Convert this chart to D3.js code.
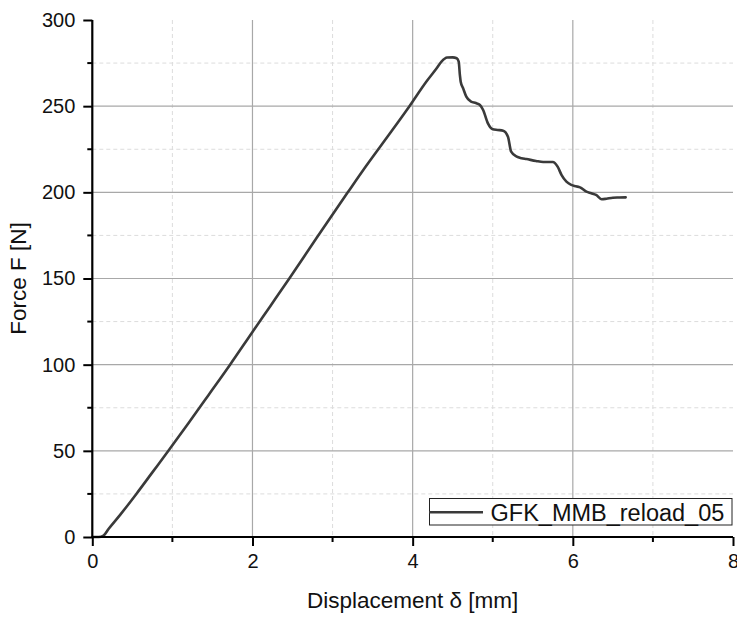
<!DOCTYPE html>
<html>
<head>
<meta charset="utf-8">
<script src="https://cdn.jsdelivr.net/npm/d3@7"></script>
<style>
  html, body { margin: 0; padding: 0; background: #fff; }
  svg { display: block; font-family: "Liberation Sans", Arial, sans-serif; }
</style>
</head>
<body>
<svg id="chart" width="737" height="617"></svg>
<script>
// Load–displacement record of specimen GFK_MMB_reload_05
const seriesName = "GFK_MMB_reload_05";
const displacement = [0, 0.08, 0.14, 0.2, 0.35, 0.55, 0.75, 0.95, 1.2, 1.45, 1.72, 2.0, 2.22, 2.46, 2.8, 3.19, 3.43, 3.61, 3.96, 4.17, 4.30, 4.36, 4.43, 4.50, 4.55, 4.575, 4.59, 4.60, 4.63, 4.67, 4.73, 4.79, 4.84, 4.88, 4.94, 5.00, 5.06, 5.13, 5.19, 5.23, 5.30, 5.36, 5.42, 5.54, 5.63, 5.75, 5.81, 5.86, 5.92, 5.98, 6.04, 6.09, 6.17, 6.23, 6.29, 6.36, 6.42, 6.50, 6.58, 6.66];
const force = [0, 0, 0.8, 4.5, 13, 25, 37.5, 50, 66, 82.3, 100, 119, 133.8, 150, 173.5, 200, 216, 227.5, 250, 264.2, 272, 275.8, 278.2, 278.3, 277.8, 275.8, 268, 264.2, 260.4, 255.5, 252.6, 251.8, 250.7, 247.8, 240, 236.6, 236.2, 235.8, 232.3, 223.6, 220.7, 219.8, 219.3, 218.2, 217.6, 217.6, 214.9, 210, 206.2, 204.3, 203.5, 202.9, 200.4, 199.5, 198.5, 196, 196.3, 196.9, 197, 197.1];

const xMajorTicks = [0, 2, 4, 6, 8];
const xMinorTicks = [1, 3, 5, 7];
const yMajorTicks = [0, 50, 100, 150, 200, 250, 300];
const yMinorTicks = [25, 75, 125, 175, 225, 275];

const svg = d3.select("#chart");
const plotLeft = 92.3, plotRight = 733, plotTop = 20, plotBottom = 537;

const x = d3.scaleLinear().domain([0, 8]).range([plotLeft, plotRight]);
const y = d3.scaleLinear().domain([0, 300]).range([plotBottom, plotTop]);

// minor grid (dashed)
const grid = svg.append("g");
grid.selectAll(".vminor").data(xMinorTicks).join("line")
  .attr("x1", d => x(d)).attr("x2", d => x(d))
  .attr("y1", plotTop).attr("y2", plotBottom)
  .attr("stroke", "#dcdcdc").attr("stroke-width", 1).attr("stroke-dasharray", "4,3");
grid.selectAll(".hminor").data(yMinorTicks).join("line")
  .attr("x1", plotLeft).attr("x2", plotRight)
  .attr("y1", d => y(d)).attr("y2", d => y(d))
  .attr("stroke", "#dcdcdc").attr("stroke-width", 1).attr("stroke-dasharray", "4,3");

// major grid (solid)
grid.selectAll(".vmajor").data(xMajorTicks.filter(d => d > 0 && d < 8)).join("line")
  .attr("x1", d => x(d)).attr("x2", d => x(d))
  .attr("y1", plotTop).attr("y2", plotBottom)
  .attr("stroke", "#a8a8a8").attr("stroke-width", 1.2);
grid.selectAll(".hmajor").data(yMajorTicks.filter(d => d > 0 && d < 300)).join("line")
  .attr("x1", plotLeft).attr("x2", plotRight)
  .attr("y1", d => y(d)).attr("y2", d => y(d))
  .attr("stroke", "#a8a8a8").attr("stroke-width", 1.2);

// data curve
const line = d3.line().curve(d3.curveMonotoneX).x(d => x(d[0])).y(d => y(d[1]));
svg.append("path")
  .datum(d3.zip(displacement, force))
  .attr("d", line)
  .attr("fill", "none")
  .attr("stroke", "#3a3a3a")
  .attr("stroke-width", 2.6)
  .attr("stroke-linejoin", "round")
  .attr("stroke-linecap", "round");

// axes
const xAxis = svg.append("g").attr("transform", `translate(0,${plotBottom})`)
  .call(d3.axisBottom(x).tickValues(xMajorTicks).tickFormat(d3.format("d")).tickSize(9).tickPadding(8));
xAxis.append("g").selectAll("line").data(xMinorTicks).join("line")
  .attr("x1", d => x(d)).attr("x2", d => x(d)).attr("y1", 0).attr("y2", 5)
  .attr("stroke", "#000").attr("stroke-width", 2);

const yAxis = svg.append("g").attr("transform", `translate(${plotLeft},0)`)
  .call(d3.axisLeft(y).tickValues(yMajorTicks).tickFormat(d3.format("d")).tickSize(9).tickPadding(8));
yAxis.append("g").selectAll("line").data(yMinorTicks).join("line")
  .attr("y1", d => y(d)).attr("y2", d => y(d)).attr("x1", 0).attr("x2", -5)
  .attr("stroke", "#000").attr("stroke-width", 2);

[xAxis, yAxis].forEach(a => {
  a.attr("font-family", "'Liberation Sans', Arial, sans-serif");
  a.select(".domain").attr("stroke", "#000").attr("stroke-width", 2.2);
  a.selectAll(".tick line").attr("stroke", "#000").attr("stroke-width", 2);
  a.selectAll(".tick text").attr("font-size", 20).attr("fill", "#111");
});
xAxis.select(".domain").attr("d", `M${plotLeft},0H${plotRight}`);
yAxis.select(".domain").attr("d", `M0,${plotBottom}V${plotTop}`);

// axis titles
svg.append("text")
  .attr("x", (plotLeft + plotRight) / 2).attr("y", 608)
  .attr("text-anchor", "middle").attr("font-size", 22.5).attr("fill", "#111")
  .text("Displacement δ [mm]");
svg.append("text")
  .attr("transform", `translate(26,${(plotTop + plotBottom) / 2}) rotate(-90)`)
  .attr("text-anchor", "middle").attr("font-size", 22.5).attr("fill", "#111")
  .text("Force F [N]");

// legend
const lg = svg.append("g");
lg.append("rect").attr("x", 429.5).attr("y", 498.5).attr("width", 302.5).attr("height", 26.5)
  .attr("fill", "#fff").attr("stroke", "#222").attr("stroke-width", 1);
lg.append("line").attr("x1", 429).attr("x2", 483).attr("y1", 512.3).attr("y2", 512.3)
  .attr("stroke", "#3a3a3a").attr("stroke-width", 2.6);
lg.append("text").attr("x", 490.5).attr("y", 520.7)
  .attr("font-size", 23.5).attr("fill", "#111").text(seriesName);
</script>
</body>
</html>
